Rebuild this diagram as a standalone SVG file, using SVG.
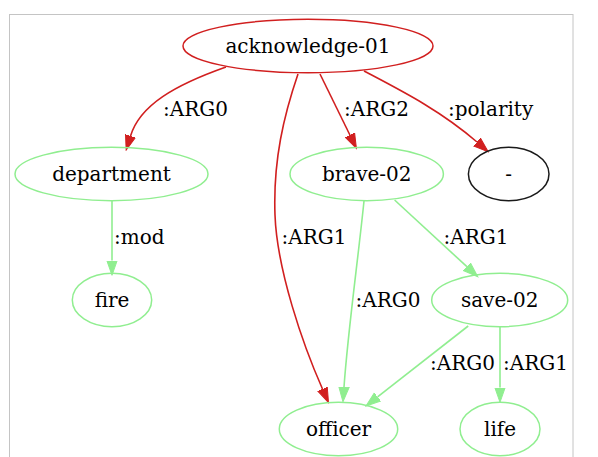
<svg xmlns="http://www.w3.org/2000/svg" width="598" height="457" viewBox="0 0 598 457">
  <style>
    text { font-family: "DejaVu Serif", "Liberation Serif", serif; font-size: 20px; fill: #000000; }
    .node text { text-anchor: middle; }
    .node ellipse { fill: none; stroke-width: 1.5; }
    .root ellipse { stroke: #d11f1f; }
    .concept ellipse { stroke: #90ee90; }
    .const ellipse { stroke: #1a1a1a; }
    .edge { fill: none; stroke-width: 1.6; }
    .red { stroke: #d11f1f; }
    .green { stroke: #90ee90; }
  </style>
  <defs>
    <marker id="arrow-red" markerUnits="userSpaceOnUse" markerWidth="16" markerHeight="12" refX="0" refY="6" orient="auto" viewBox="0 0 16 12">
      <path d="M0,0.8 L14.8,6 L0,11.2 Z" fill="#d11f1f" stroke="#d11f1f" stroke-width="1"/>
    </marker>
    <marker id="arrow-green" markerUnits="userSpaceOnUse" markerWidth="16" markerHeight="12" refX="0" refY="6" orient="auto" viewBox="0 0 16 12">
      <path d="M0,0.8 L14.8,6 L0,11.2 Z" fill="#90ee90" stroke="#90ee90" stroke-width="1"/>
    </marker>
  </defs>

  <!-- frame around the graph -->
  <rect x="9.5" y="14.5" width="563.5" height="460" fill="#ffffff" stroke="#c4c4c4" stroke-width="1"/>

  <g id="edges">
    <path class="edge red" d="M226,67 C175,85 140,105 130.5,136" marker-end="url(#arrow-red)"/>
    <path class="edge red" d="M298,74 C284,115 273,160 275,215 C277,270 303,345 322.5,389" marker-end="url(#arrow-red)"/>
    <path class="edge red" d="M320,74 L349.9,135" marker-end="url(#arrow-red)"/>
    <path class="edge red" d="M364,71 C400,90 440,110 477,142" marker-end="url(#arrow-red)"/>
    <path class="edge green" d="M112,201 L112,260.5" marker-end="url(#arrow-green)"/>
    <path class="edge green" d="M364,201 C358,260 348,330 344,387" marker-end="url(#arrow-green)"/>
    <path class="edge green" d="M394.6,200 L466.9,266.7" marker-end="url(#arrow-green)"/>
    <path class="edge green" d="M468.2,326 L377.6,396.9" marker-end="url(#arrow-green)"/>
    <path class="edge green" d="M500,327 L500,387.5" marker-end="url(#arrow-green)"/>

    <text x="163" y="115.5">:ARG0</text>
    <text x="344" y="115.5">:ARG2</text>
    <text x="448" y="115.5">:polarity</text>
    <text x="114" y="244">:mod</text>
    <text x="281.5" y="244">:ARG1</text>
    <text x="443.5" y="244">:ARG1</text>
    <text x="355.5" y="306.5">:ARG0</text>
    <text x="430" y="370">:ARG0</text>
    <text x="503" y="370">:ARG1</text>
  </g>

  <g id="acknowledge-01" class="node root">
    <ellipse cx="308" cy="46" rx="125" ry="26.7"/>
    <text x="308" y="52.7">acknowledge-01</text>
  </g>
  <g id="department" class="node concept">
    <ellipse cx="111.5" cy="174" rx="96.5" ry="26.7"/>
    <text x="111.5" y="180.7">department</text>
  </g>
  <g id="brave-02" class="node concept">
    <ellipse cx="366.7" cy="174" rx="76.7" ry="26.7"/>
    <text x="366.7" y="180.7">brave-02</text>
  </g>
  <g id="minus" class="node const">
    <ellipse cx="508.7" cy="174" rx="40.3" ry="26.7"/>
    <text x="508.7" y="180.7">-</text>
  </g>
  <g id="fire" class="node concept">
    <ellipse cx="112" cy="300" rx="39.7" ry="26.7"/>
    <text x="112" y="306.7">fire</text>
  </g>
  <g id="save-02" class="node concept">
    <ellipse cx="499.7" cy="300" rx="68" ry="26.7"/>
    <text x="499.7" y="306.7">save-02</text>
  </g>
  <g id="officer" class="node concept">
    <ellipse cx="338.5" cy="429" rx="59.2" ry="26.7"/>
    <text x="338.5" y="435.7">officer</text>
  </g>
  <g id="life" class="node concept">
    <ellipse cx="500" cy="429" rx="40" ry="26.7"/>
    <text x="500" y="435.7">life</text>
  </g>
</svg>
